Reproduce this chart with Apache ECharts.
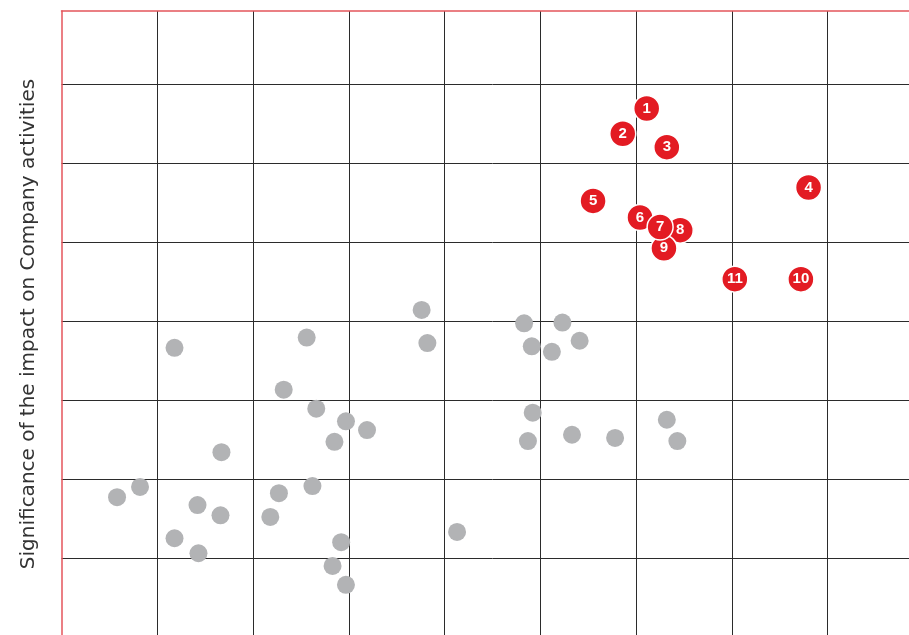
<!DOCTYPE html>
<html>
<head>
<meta charset="utf-8">
<script src="https://cdn.jsdelivr.net/npm/echarts@6/dist/echarts.min.js"></script>
<style>
  html, body { margin: 0; padding: 0; background: #fff; overflow: hidden; width: 909px; height: 635px; }
  /* the plot runs on past the right and bottom edges of the page */
  #chart { width: 930px; height: 640px; }
</style>
</head>
<body>
<div id="chart"></div>
<script>
// Other topics (grey dots): position on the two assessment axes
const otherX = [0.58, 0.82, 1.18, 1.67, 1.42, 1.66, 1.18, 1.43, 2.32, 2.56, 2.66, 2.97, 2.85, 3.19,
                2.27, 2.62, 2.18, 2.92, 2.83, 2.97, 3.76, 3.82, 4.13, 4.83, 5.23, 4.91, 5.12, 5.41,
                4.92, 4.87, 5.33, 5.78, 6.32, 6.43];
const otherY = [1.77, 1.90, 3.66, 2.34, 1.67, 1.54, 1.25, 1.06, 3.13, 3.79, 2.89, 2.73, 2.47, 2.62,
                1.82, 1.91, 1.52, 1.20, 0.90, 0.66, 4.14, 3.72, 1.33, 3.97, 3.98, 3.68, 3.61, 3.75,
                2.84, 2.48, 2.56, 2.52, 2.75, 2.48];

// Material topics (numbered red dots), listed in stacking order
const materialIds = ['1', '2', '3', '4', '5', '10', '11', '6', '8', '9', '7'];
const materialX   = [6.11, 5.86, 6.32, 7.80, 5.55, 7.72, 7.03, 6.04, 6.46, 6.29, 6.25];
const materialY   = [6.69, 6.37, 6.20, 5.69, 5.52, 4.53, 4.53, 5.31, 5.15, 4.92, 5.19];

const yTitle = 'Significance of the impact on Company activities';

const RED = '#e31b23';
const AXIS_RED = '#e4555b';
const GRID = '#2b2b2b';

const chart = echarts.init(document.getElementById('chart'), null, { renderer: 'canvas' });

chart.setOption({
  animation: false,
  backgroundColor: '#ffffff',
  grid: { left: 61.5, top: 11, width: 862, height: 626, containLabel: false },
  xAxis: {
    type: 'value',
    position: 'top',
    min: 0, max: 9, interval: 1,
    axisLine: { show: true, onZero: false, lineStyle: { color: AXIS_RED, width: 1.5 } },
    axisTick: { show: false },
    axisLabel: { show: false },
    splitLine: { show: true, showMinLine: false, lineStyle: { color: GRID, width: 1 } }
  },
  yAxis: {
    type: 'value',
    min: 0, max: 7.924, interval: 1,
    name: yTitle,
    nameLocation: 'middle',
    nameGap: 23,
    nameRotate: 90,
    nameTextStyle: {
      fontFamily: 'DejaVu Sans, Liberation Sans, sans-serif',
      fontSize: 20,
      color: '#333333'
    },
    axisLine: { show: true, onZero: false, lineStyle: { color: AXIS_RED, width: 1.5 } },
    axisTick: { show: false },
    axisLabel: { show: false },
    splitLine: { show: true, showMaxLine: false, showMinLine: false, lineStyle: { color: GRID, width: 1 } }
  },
  series: [
    {
      type: 'scatter',
      symbol: 'circle',
      symbolSize: 18,
      itemStyle: { color: '#b2b3b5', opacity: 1 },
      data: otherX.map((x, i) => [x, otherY[i]]),
      z: 3
    },
    {
      type: 'scatter',
      symbol: 'circle',
      symbolSize: 26,
      itemStyle: { color: RED, borderColor: '#ffffff', borderWidth: 1.5, opacity: 1 },
      label: {
        show: true,
        position: 'inside',
        formatter: p => p.name,
        color: '#ffffff',
        fontFamily: 'Liberation Sans, Arial, sans-serif',
        fontWeight: 'bold',
        fontSize: 15
      },
      data: materialIds.map((id, i) => ({ name: id, value: [materialX[i], materialY[i]] })),
      z: 4
    }
  ]
});
</script>
</body>
</html>
